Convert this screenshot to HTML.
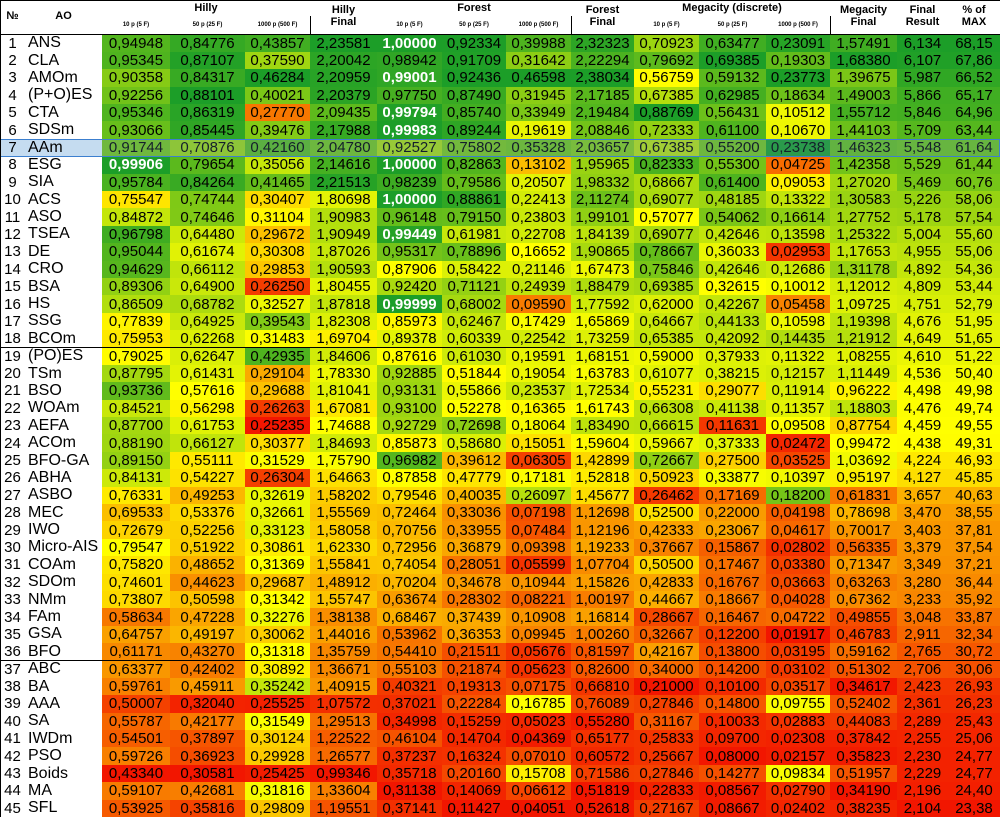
<!DOCTYPE html>
<html><head><meta charset="utf-8">
<style>
html,body{margin:0;padding:0;background:#fff;}
#tbl{position:relative;width:1000px;height:817px;overflow:hidden;font-family:"Liberation Sans",Arial,sans-serif;}
.c{position:absolute;box-sizing:border-box;border-right:1px solid #000;border-bottom:1px solid #000;display:flex;align-items:center;justify-content:center;color:#000;white-space:nowrap;overflow:hidden;}
.h{font-weight:bold;font-size:11px;text-align:center;line-height:12px;background:#fff;}
.s{font-size:6px;font-weight:bold;background:#fff;}
.n{font-size:15px;}
.ao{justify-content:flex-start;padding-left:3px;font-size:16px;background:#fff;}
.w{color:#fff;font-weight:bold;}
</style></head><body>
<div id="tbl"></div>
<script>
const names=["ANS","CLA","AMOm","(P+O)ES","CTA","SDSm","AAm","ESG","SIA","ACS","ASO","TSEA","DE","CRO","BSA","HS","SSG","BCOm","(PO)ES","TSm","BSO","WOAm","AEFA","ACOm","BFO-GA","ABHA","ASBO","MEC","IWO","Micro-AIS","COAm","SDOm","NMm","FAm","GSA","BFO","ABC","BA","AAA","SA","IWDm","PSO","Boids","MA","SFL"];
const hilly10=[0.94948,0.95345,0.90358,0.92256,0.95346,0.93066,0.91744,0.99906,0.95784,0.75547,0.84872,0.96798,0.95044,0.94629,0.89306,0.86509,0.77839,0.75953,0.79025,0.87795,0.93736,0.84521,0.87700,0.88190,0.89150,0.84131,0.76331,0.69533,0.72679,0.79547,0.75820,0.74601,0.73807,0.58634,0.64757,0.61171,0.63377,0.59761,0.50007,0.55787,0.54501,0.59726,0.43340,0.59107,0.53925];
const hilly50=[0.84776,0.87107,0.84317,0.88101,0.86319,0.85445,0.70876,0.79654,0.84264,0.74744,0.74646,0.64480,0.61674,0.66112,0.64900,0.68782,0.64925,0.62268,0.62647,0.61431,0.57616,0.56298,0.61753,0.66127,0.55111,0.54227,0.49253,0.53376,0.52256,0.51922,0.48652,0.44623,0.50598,0.47228,0.49197,0.43270,0.42402,0.45911,0.32040,0.42177,0.37897,0.36923,0.30581,0.42681,0.35816];
const hilly1000=[0.43857,0.37590,0.46284,0.40021,0.27770,0.39476,0.42160,0.35056,0.41465,0.30407,0.31104,0.29672,0.30308,0.29853,0.26250,0.32527,0.39543,0.31483,0.42935,0.29104,0.29688,0.26263,0.25235,0.30377,0.31529,0.26304,0.32619,0.32661,0.33123,0.30861,0.31369,0.29687,0.31342,0.32276,0.30062,0.31318,0.30892,0.35242,0.25525,0.31549,0.30124,0.29928,0.25425,0.31816,0.29809];
const hillyFinal=[2.23581,2.20042,2.20959,2.20379,2.09435,2.17988,2.04780,2.14616,2.21513,1.80698,1.90983,1.90949,1.87026,1.90593,1.80455,1.87818,1.82308,1.69704,1.84606,1.78330,1.81041,1.67081,1.74688,1.84693,1.75790,1.64663,1.58202,1.55569,1.58058,1.62330,1.55841,1.48912,1.55747,1.38138,1.44016,1.35759,1.36671,1.40915,1.07572,1.29513,1.22522,1.26577,0.99346,1.33604,1.19551];
const forest10=[1.00000,0.98942,0.99001,0.97750,0.99794,0.99983,0.92527,1.00000,0.98239,1.00000,0.96148,0.99449,0.95317,0.87906,0.92420,0.99999,0.85973,0.89378,0.87616,0.92885,0.93131,0.93100,0.92729,0.85873,0.96982,0.87858,0.79546,0.72464,0.70756,0.72956,0.74054,0.70204,0.63674,0.68467,0.53962,0.54410,0.55103,0.40321,0.37021,0.34998,0.46104,0.37237,0.35718,0.31138,0.37141];
const forest50=[0.92334,0.91709,0.92436,0.87490,0.85740,0.89244,0.75802,0.82863,0.79586,0.88861,0.79150,0.61981,0.78896,0.58422,0.71121,0.68002,0.62467,0.60339,0.61030,0.51844,0.55866,0.52278,0.72698,0.58680,0.39612,0.47779,0.40035,0.33036,0.33955,0.36879,0.28051,0.34678,0.28302,0.37439,0.36353,0.21511,0.21874,0.19313,0.22284,0.15259,0.14704,0.16324,0.20160,0.14069,0.11427];
const forest1000=[0.39988,0.31642,0.46598,0.31945,0.33949,0.19619,0.35328,0.13102,0.20507,0.22413,0.23803,0.22708,0.16652,0.21146,0.24939,0.09590,0.17429,0.22542,0.19591,0.19054,0.23537,0.16365,0.18064,0.15051,0.06305,0.17181,0.26097,0.07198,0.07484,0.09398,0.05599,0.10944,0.08221,0.10908,0.09945,0.05676,0.05623,0.07175,0.16785,0.05023,0.04369,0.07010,0.15708,0.06612,0.04051];
const forestFinal=[2.32323,2.22294,2.38034,2.17185,2.19484,2.08846,2.03657,1.95965,1.98332,2.11274,1.99101,1.84139,1.90865,1.67473,1.88479,1.77592,1.65869,1.73259,1.68151,1.63783,1.72534,1.61743,1.83490,1.59604,1.42899,1.52818,1.45677,1.12698,1.12196,1.19233,1.07704,1.15826,1.00197,1.16814,1.00260,0.81597,0.82600,0.66810,0.76089,0.55280,0.65177,0.60572,0.71586,0.51819,0.52618];
const mega10=[0.70923,0.79692,0.56759,0.67385,0.88769,0.72333,0.67385,0.82333,0.68667,0.69077,0.57077,0.69077,0.78667,0.75846,0.69385,0.62000,0.64667,0.65385,0.59000,0.61077,0.55231,0.66308,0.66615,0.59667,0.72667,0.50923,0.26462,0.52500,0.42333,0.37667,0.50500,0.42833,0.44667,0.28667,0.32667,0.42167,0.34000,0.21000,0.27846,0.31167,0.25833,0.25667,0.27846,0.22833,0.27167];
const mega50=[0.63477,0.69385,0.59132,0.62985,0.56431,0.61100,0.55200,0.55300,0.61400,0.48185,0.54062,0.42646,0.36033,0.42646,0.32615,0.42267,0.44133,0.42092,0.37933,0.38215,0.29077,0.41138,0.11631,0.37333,0.27500,0.33877,0.17169,0.22000,0.23067,0.15867,0.17467,0.16767,0.18667,0.16467,0.12200,0.13800,0.14200,0.10100,0.14800,0.10033,0.09700,0.08000,0.14277,0.08567,0.08667];
const mega1000=[0.23091,0.19303,0.23773,0.18634,0.10512,0.10670,0.23738,0.04725,0.09053,0.13322,0.16614,0.13598,0.02953,0.12686,0.10012,0.05458,0.10598,0.14435,0.11322,0.12157,0.11914,0.11357,0.09508,0.02472,0.03525,0.10397,0.18200,0.04198,0.04617,0.02802,0.03380,0.03663,0.04028,0.04722,0.01917,0.03195,0.03102,0.03517,0.09755,0.02883,0.02308,0.02157,0.09834,0.02790,0.02402];
const megaFinal=[1.57491,1.68380,1.39675,1.49003,1.55712,1.44103,1.46323,1.42358,1.27020,1.30583,1.27752,1.25322,1.17653,1.31178,1.12012,1.09725,1.19398,1.21912,1.08255,1.11449,0.96222,1.18803,0.87754,0.99472,1.03692,0.95197,0.61831,0.78698,0.70017,0.56335,0.71347,0.63263,0.67362,0.49855,0.46783,0.59162,0.51302,0.34617,0.52402,0.44083,0.37842,0.35823,0.51957,0.34190,0.38235];
const finalResult=[6.134,6.107,5.987,5.866,5.846,5.709,5.548,5.529,5.469,5.226,5.178,5.004,4.955,4.892,4.809,4.751,4.676,4.649,4.610,4.536,4.498,4.476,4.459,4.438,4.224,4.127,3.657,3.470,3.403,3.379,3.349,3.280,3.233,3.048,2.911,2.765,2.706,2.423,2.361,2.289,2.255,2.230,2.229,2.196,2.104];
const pctMax=[68.15,67.86,66.52,65.17,64.96,63.44,61.64,61.44,60.76,58.06,57.54,55.60,55.06,54.36,53.44,52.79,51.95,51.65,51.22,50.40,49.98,49.74,49.55,49.31,46.93,45.85,40.63,38.55,37.81,37.54,37.21,36.44,35.92,33.87,32.34,30.72,30.06,26.93,26.23,25.43,25.06,24.77,24.77,24.40,23.38];
const whiteForest10=[0,2,4,5,7,9,11,15];
const whiteHilly10=[7];

const X=[0,25,102,170,245,310,377,442,506,571,634,699,766,830,897,948,1000];
const HEAD=34.5, RH=(817-HEAD)/45;
const T=document.getElementById('tbl');
function cell(x,y,w,h,cls,txt){const d=document.createElement('div');d.className='c '+cls;d.style.left=x+'px';d.style.top=y+'px';d.style.width=(w+1)+'px';d.style.height=(h+1)+'px';d.textContent=txt;T.appendChild(d);return d;}
T.style.borderLeft='0';
// header
const groups=[["№",0,1,1],["AO",1,2,1],["Hilly",2,5,0],["Hilly\nFinal",5,6,1],["Forest",6,9,0],["Forest\nFinal",9,10,1],["Megacity (discrete)",10,13,0],["Megacity\nFinal",13,14,1],["Final\nResult",14,15,1],["% of\nMAX",15,16,1]];
for(const g of groups){const d=cell(X[g[1]],-1,X[g[2]]-X[g[1]],g[3]?HEAD:17,'h','');d.innerHTML=g[0].replace('\n','<br>');

}
const subs=["10 p (5 F)","50 p (25 F)","1000 p (500 F)"];
for(const s of [2,6,10]){for(let k=0;k<3;k++){const d=cell(X[s+k],16,X[s+k+1]-X[s+k],HEAD-17,'s',subs[k]);

}}
const cols=[hilly10,hilly50,hilly1000,hillyFinal,forest10,forest50,forest1000,forestFinal,mega10,mega50,mega1000,megaFinal,finalResult,pctMax];
const colNames=['hilly-10p','hilly-50p','hilly-1000p','hilly-final','forest-10p','forest-50p','forest-1000p','forest-final','megacity-10p','megacity-50p','megacity-1000p','megacity-final','final-result','pct-of-max'];
const RED=[242,22,0],YEL=[255,255,0],GRN=[28,158,40];
function mix(a,b,t){return 'rgb('+a.map((v,i)=>Math.round(v+(b[i]-v)*t)).join(',')+')';}
function colorScale(arr){const s=[...arr].sort((a,b)=>a-b);const mn=s[0],mx=s[s.length-1],md=s[Math.floor(s.length/2)];
return v=>v<=md?mix(RED,YEL,md>mn?(v-mn)/(md-mn):1):mix(YEL,GRN,mx>md?(v-md)/(mx-md):1);}
const scales=cols.map(colorScale);
for(let r=0;r<names.length;r++){
 const y=HEAD+r*RH;
 let d=cell(X[0],y,X[1]-X[0],RH,'n',String(r+1));d.style.background='#fff';d.style.fontSize='15px';
 
 
 d=cell(X[1],y,X[2]-X[1],RH,'ao',names[r]);
 
 
 if(r===6){d.style.background='#c5dcf0';T.lastChild.previousSibling.style.background='#c5dcf0';}
 for(let c=0;c<cols.length;c++){
  const v=cols[c][r];
  const txt=(c===12?v.toFixed(3):c===13?v.toFixed(2):v.toFixed(5)).replace('.',',');
  d=cell(X[c+2],y,X[c+3]-X[c+2],RH,'n',txt);
  d.style.background=scales[c](v);
  if((c===4&&whiteForest10.includes(r))||(c===0&&whiteHilly10.includes(r)))d.classList.add('w');
  
  
 }
}
// selected row overlay
const ov=document.createElement('div');


ov.style.cssText='position:absolute;left:102px;top:'+(HEAD+6*RH)+'px;width:898px;height:'+(RH+1)+'px;background:rgba(90,140,200,0.22);pointer-events:none;';
T.appendChild(ov);
const ol=document.createElement('div');


ol.style.cssText='position:absolute;left:0;top:'+(HEAD+6*RH)+'px;width:1000px;height:'+(RH+1)+'px;box-sizing:border-box;border:1px solid #3c7fcf;pointer-events:none;';
T.appendChild(ol);
// outer left/top border
const ob=document.createElement('div');


ob.style.cssText='position:absolute;left:0;top:0;width:1000px;height:817px;box-sizing:border-box;border-left:1px solid #000;border-top:1px solid #000;pointer-events:none;';
T.appendChild(ob);
</script>
</body></html>
